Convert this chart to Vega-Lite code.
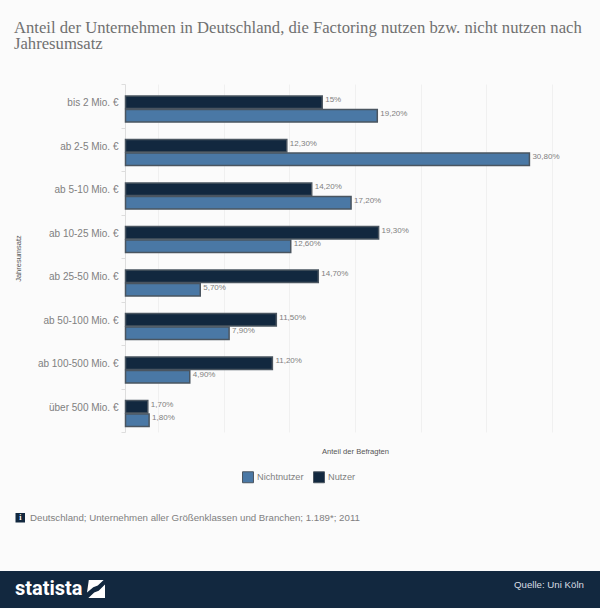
{
"$schema":"https://vega.github.io/schema/vega-lite/v6.json",
"autosize":{"type":"none"},
"padding":{"left":125,"top":84,"right":16,"bottom":177},
"width":459,"height":348,
"background":"#fbfbfb",
"title":{"text":["Anteil der Unternehmen in Deutschland, die Factoring nutzen bzw. nicht nutzen nach","Jahresumsatz"],"anchor":"start","frame":"group","dx":-111,"offset":26,"font":"Liberation Serif","fontSize":16.65,"fontWeight":"normal","color":"#707070","lineHeight":16},
"config":{"view":{"stroke":null},"font":"Liberation Sans"},
"datasets":{
"rows":[
{"k":"bis 2 Mio. €","s":"Nutzer","v":15,"l":"15%"},
{"k":"bis 2 Mio. €","s":"Nichtnutzer","v":19.2,"l":"19,20%"},
{"k":"ab 2-5 Mio. €","s":"Nutzer","v":12.3,"l":"12,30%"},
{"k":"ab 2-5 Mio. €","s":"Nichtnutzer","v":30.8,"l":"30,80%"},
{"k":"ab 5-10 Mio. €","s":"Nutzer","v":14.2,"l":"14,20%"},
{"k":"ab 5-10 Mio. €","s":"Nichtnutzer","v":17.2,"l":"17,20%"},
{"k":"ab 10-25 Mio. €","s":"Nutzer","v":19.3,"l":"19,30%"},
{"k":"ab 10-25 Mio. €","s":"Nichtnutzer","v":12.6,"l":"12,60%"},
{"k":"ab 25-50 Mio. €","s":"Nutzer","v":14.7,"l":"14,70%"},
{"k":"ab 25-50 Mio. €","s":"Nichtnutzer","v":5.7,"l":"5,70%"},
{"k":"ab 50-100 Mio. €","s":"Nutzer","v":11.5,"l":"11,50%"},
{"k":"ab 50-100 Mio. €","s":"Nichtnutzer","v":7.9,"l":"7,90%"},
{"k":"ab 100-500 Mio. €","s":"Nutzer","v":11.2,"l":"11,20%"},
{"k":"ab 100-500 Mio. €","s":"Nichtnutzer","v":4.9,"l":"4,90%"},
{"k":"über 500 Mio. €","s":"Nutzer","v":1.7,"l":"1,70%"},
{"k":"über 500 Mio. €","s":"Nichtnutzer","v":1.8,"l":"1,80%"}
]},
"layer":[
{"data":{"name":"rows"},
"mark":{"type":"bar","stroke":"#4a5560","strokeWidth":1.5},
"encoding":{
"y":{"field":"k","type":"nominal","sort":null,"title":"Jahresumsatz","scale":{"paddingInner":0,"paddingOuter":0},
"axis":{"tickBand":"extent","labelOffset":-3,"labelFontSize":10,"labelColor":"#808080","labelPadding":3,"domainColor":"#dddddd","tickColor":"#dddddd","tickSize":4,"titleFontSize":7.5,"titleFontWeight":"normal","titleColor":"#555555","titleX":-103,"titleY":174,"grid":false}},
"yOffset":{"field":"s","type":"nominal","sort":["Nutzer","Nichtnutzer"],"scale":{"range":[12,38],"paddingInner":0.08,"paddingOuter":0}},
"x":{"field":"v","type":"quantitative","title":"Anteil der Befragten","scale":{"domain":[0,35],"nice":false,"range":[0.5,459.5]},
"axis":{"values":[2.5,5,7.5,10,12.5,15,17.5,20,22.5,25,27.5,30,32.5,35],"labels":false,"ticks":false,"domain":false,"gridColor":"#f0f0f0","gridOpacity":1,"titleFontSize":7.6,"titleFontWeight":"normal","titleColor":"#555555","titlePadding":15}},
"color":{"field":"s","type":"nominal","scale":{"domain":["Nichtnutzer","Nutzer"],"range":["#4a78a5","#12283f"]},
"legend":{"title":null,"orient":"none","legendX":117,"legendY":387,"direction":"horizontal","symbolType":"square","symbolSize":120,"symbolStrokeColor":"#4a5560","symbolStrokeWidth":1,"labelFontSize":9.2,"labelColor":"#808080","columnPadding":7,"labelOffset":3}}
}},
{"data":{"name":"rows"},
"mark":{"type":"text","align":"left","baseline":"middle","dx":3,"dy":-2,"fontSize":8,"color":"#808080"},
"encoding":{
"y":{"field":"k","type":"nominal","sort":null},
"yOffset":{"field":"s","type":"nominal","sort":["Nutzer","Nichtnutzer"]},
"x":{"field":"v","type":"quantitative"},
"text":{"field":"l"}
}},
{"data":{"values":[{"a":1}]},"mark":{"type":"rect","color":"#12283f"},
"encoding":{"x":{"value":-125},"x2":{"value":475},"y":{"value":487},"y2":{"value":524}}},
{"data":{"values":[{"t":"statista"}]},"mark":{"type":"text","align":"left","baseline":"middle","font":"Roboto","fontWeight":"bold","fontSize":20,"color":"#ffffff"},
"encoding":{"x":{"value":-110},"y":{"value":505},"text":{"field":"t"}}},
{"data":{"values":[{"a":1}]},"mark":{"type":"point","filled":true,"opacity":1,"color":"#ffffff","strokeWidth":0,"size":324,"shape":"M-0.8,-1 L0.85,-1 L0.2,-0.4 L-0.3,-0.2 L-1,0.4 Z M-0.85,1 L-0.2,0.4 L0.3,0.2 L1,-0.5 L1,1 Z"},
"encoding":{"x":{"value":-29},"y":{"value":505}}},
{"data":{"values":[{"t":"Quelle: Uni Köln"}]},"mark":{"type":"text","align":"right","baseline":"middle","fontSize":9.7,"color":"#d8dde2"},
"encoding":{"x":{"value":459},"y":{"value":500.5},"text":{"field":"t"}}},
{"data":{"values":[{"t":"Deutschland; Unternehmen aller Größenklassen und Branchen; 1.189*; 2011"}]},"mark":{"type":"text","align":"left","baseline":"middle","fontSize":9.7,"color":"#808080"},
"encoding":{"x":{"value":-95},"y":{"value":433.5},"text":{"field":"t"}}},
{"data":{"values":[{"a":1}]},"mark":{"type":"rect","color":"#12283f"},
"encoding":{"x":{"value":-109.5},"x2":{"value":-100},"y":{"value":429},"y2":{"value":438.5}}},
{"data":{"values":[{"t":"i"}]},"mark":{"type":"text","align":"center","baseline":"middle","fontSize":8,"fontWeight":"bold","font":"Liberation Serif","color":"#ffffff"},
"encoding":{"x":{"value":-104.7},"y":{"value":433.5},"text":{"field":"t"}}}
]
}
